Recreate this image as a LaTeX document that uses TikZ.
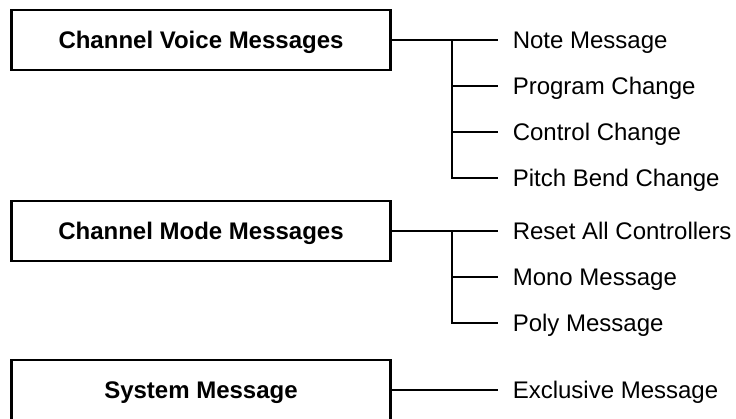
\documentclass[tikz,border=0pt]{standalone}
\usepackage{fontspec}
\setmainfont{Liberation Sans}
\usetikzlibrary{positioning, calc}

\tikzset{
	msgbox/.style={draw, line width=2.6pt, minimum width=379pt, minimum height=60pt, inner sep=0pt,
		font=\fontsize{24}{29}\selectfont\bfseries, text height=17.5pt, text depth=0pt},
	msgitem/.style={anchor=west, inner xsep=15pt, inner ysep=0pt, outer sep=0pt,
		font=\fontsize{24}{29}\selectfont, text height=17.5pt, text depth=0pt},
	wire/.style={line width=1.6pt}
}

\begin{document}
\begin{tikzpicture}[x=1pt, y=-1pt]
		\useasboundingbox (0,0) rectangle (736,418);
		\node[msgbox] (voice) at (201,40) {Channel Voice Messages};
		\node[msgbox] (mode) at (201,231) {Channel Mode Messages};
		\node[msgbox] (system) at (201,390) {System Message};

		\node[msgitem, right=106pt of voice] (note) {Note Message};
		\node[msgitem] (prog) at ([yshift=-46pt]note.west) {Program Change};
		\node[msgitem] (ctrl) at ([yshift=-46pt]prog.west) {Control Change};
		\node[msgitem] (pitch) at ([yshift=-46pt]ctrl.west) {Pitch Bend Change};

		\node[msgitem, right=106pt of mode] (reset) {Reset All Controllers};
		\node[msgitem] (mono) at ([yshift=-46pt]reset.west) {Mono Message};
		\node[msgitem] (poly) at ([yshift=-46pt]mono.west) {Poly Message};

		\node[msgitem, right=106pt of system] (excl) {Exclusive Message};

		\coordinate (voicebr) at ($(voice.east)+(60pt,0pt)$);
		\coordinate (modebr) at ($(mode.east)+(60pt,0pt)$);

		\draw[wire] (voice.east) -- (note.west);
		\draw[wire] (voicebr) |- (pitch.west);
		\foreach \n in {prog, ctrl}
			\draw[wire] (voicebr |- \n.west) -- (\n.west);

		\draw[wire] (mode.east) -- (reset.west);
		\draw[wire] (modebr) |- (poly.west);
		\draw[wire] (modebr |- mono.west) -- (mono.west);

		\draw[wire] (system.east) -- (excl.west);
\end{tikzpicture}
\end{document}
